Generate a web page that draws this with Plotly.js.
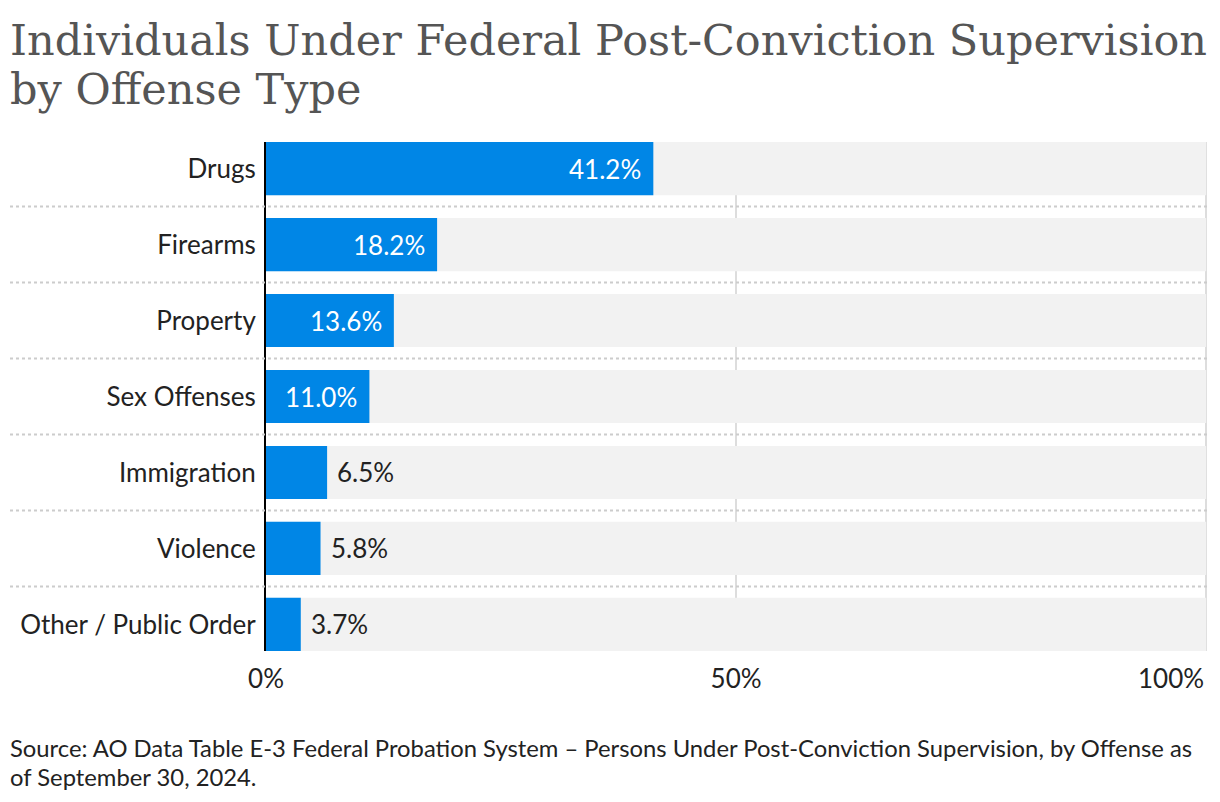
<!DOCTYPE html>
<html>
<head>
<meta charset="utf-8">
<script src="https://cdn.plot.ly/plotly-3.0.1.min.js"></script>
<style>html,body{margin:0;padding:0;background:#fff;}#chart{width:1220px;height:802px;}</style>
</head>
<body>
<div id="chart"></div>
<script>
const categories = ["Drugs", "Firearms", "Property", "Sex Offenses", "Immigration", "Violence", "Other / Public Order"];
const shares = [41.2, 18.2, 13.6, 11.0, 6.5, 5.8, 3.7];
const fullScale = [100, 100, 100, 100, 100, 100, 100];
const xTickValues = [0, 50, 100];
const xTickLabels = ["0%", "50%", "100%"];
const titleLines = ["Individuals Under Federal Post-Conviction Supervision", "by Offense Type"];
const sourceLines = ["Source: AO Data Table E-3 Federal Probation System \u2013 Persons Under Post-Conviction Supervision, by Offense as", "of September 30, 2024."];

const W = 1220, H = 802;
const plotL = 266, plotR = 1208, plotT = 142, plotB = 651;
const pw = plotR - plotL, ph = plotB - plotT;
const barWidth = 0.7;
const px2x = px => (px - plotL) / pw;
const py2y = py => (plotB - py) / ph;

const traces = [
  {
    type: "bar", orientation: "h", y: categories, x: fullScale,
    marker: { color: "#f2f2f2" }, width: barWidth, hoverinfo: "skip", showlegend: false
  },
  {
    type: "bar", orientation: "h", y: categories, x: shares,
    marker: { color: "#0086e6" }, width: barWidth, showlegend: false
  }
];

const annotations = shares.map((v, i) => {
  const inside = v >= 10;
  return {
    x: v, y: categories[i], xref: "x", yref: "y",
    text: v.toFixed(1) + "%", showarrow: false,
    xanchor: inside ? "right" : "left", xshift: inside ? -10 : 8,
    font: { family: "Lato", size: 26, color: inside ? "#ffffff" : "#222222" }
  };
});
// last x tick label is right-aligned to stay inside the figure
const lastIdx = xTickValues.length - 1;
annotations.push({
  x: xTickValues[lastIdx], y: 0, xref: "x", yref: "paper",
  xanchor: "right", yanchor: "top", yshift: -9, showarrow: false,
  text: xTickLabels[lastIdx],
  font: { family: "Lato", size: 26, color: "#222222" }
});
const titleBottoms = [67, 116];
titleLines.forEach((t, i) => annotations.push({
  x: px2x(8), y: py2y(titleBottoms[i]), xref: "paper", yref: "paper",
  xanchor: "left", yanchor: "bottom", align: "left", showarrow: false,
  text: t, font: { family: "DejaVu Serif", size: 43, color: "#555555" }
}));
const sourceBottoms = [764, 793];
sourceLines.forEach((t, i) => annotations.push({
  x: px2x(8), y: py2y(sourceBottoms[i]), xref: "paper", yref: "paper",
  xanchor: "left", yanchor: "bottom", align: "left", showarrow: false,
  text: t, font: { family: "Lato", size: 23.8, color: "#222222" }
}));

const shapes = [];
for (let i = 0; i < categories.length - 1; i++) {
  shapes.push({
    type: "line", xref: "paper", yref: "y",
    x0: px2x(10), x1: 1, y0: i + 0.5, y1: i + 0.5,
    line: { color: "#cccccc", width: 2, dash: "dot" }, layer: "above"
  });
}

const layout = {
  width: W, height: H,
  margin: { l: plotL, r: W - plotR, t: plotT, b: H - plotB, pad: 0 },
  paper_bgcolor: "#ffffff", plot_bgcolor: "#ffffff",
  barmode: "overlay",
  showlegend: false,
  xaxis: {
    range: [0, 100.2], tickvals: xTickValues,
    ticktext: xTickLabels.map((t, i) => i === lastIdx ? "" : t),
    showgrid: true, gridcolor: "#dddddd", gridwidth: 1.5,
    zeroline: false, showline: false,
    ticks: "outside", ticklen: 5, tickcolor: "rgba(0,0,0,0)",
    tickfont: { family: "Lato", size: 26, color: "#222222" },
    layer: "above traces", fixedrange: true
  },
  yaxis: {
    type: "category", categoryorder: "array", categoryarray: categories,
    autorange: false, range: [categories.length - 1 + 0.35, -0.35],
    showgrid: false, zeroline: false,
    showline: true, linecolor: "#000000", linewidth: 2,
    ticks: "outside", ticklen: 3, tickcolor: "rgba(0,0,0,0)",
    tickfont: { family: "Lato", size: 26, color: "#222222" },
    layer: "above traces", fixedrange: true
  },
  annotations: annotations,
  shapes: shapes,
  font: { family: "Lato" }
};

Plotly.newPlot("chart", traces, layout, { displayModeBar: false, staticPlot: true });
</script>
</body>
</html>
